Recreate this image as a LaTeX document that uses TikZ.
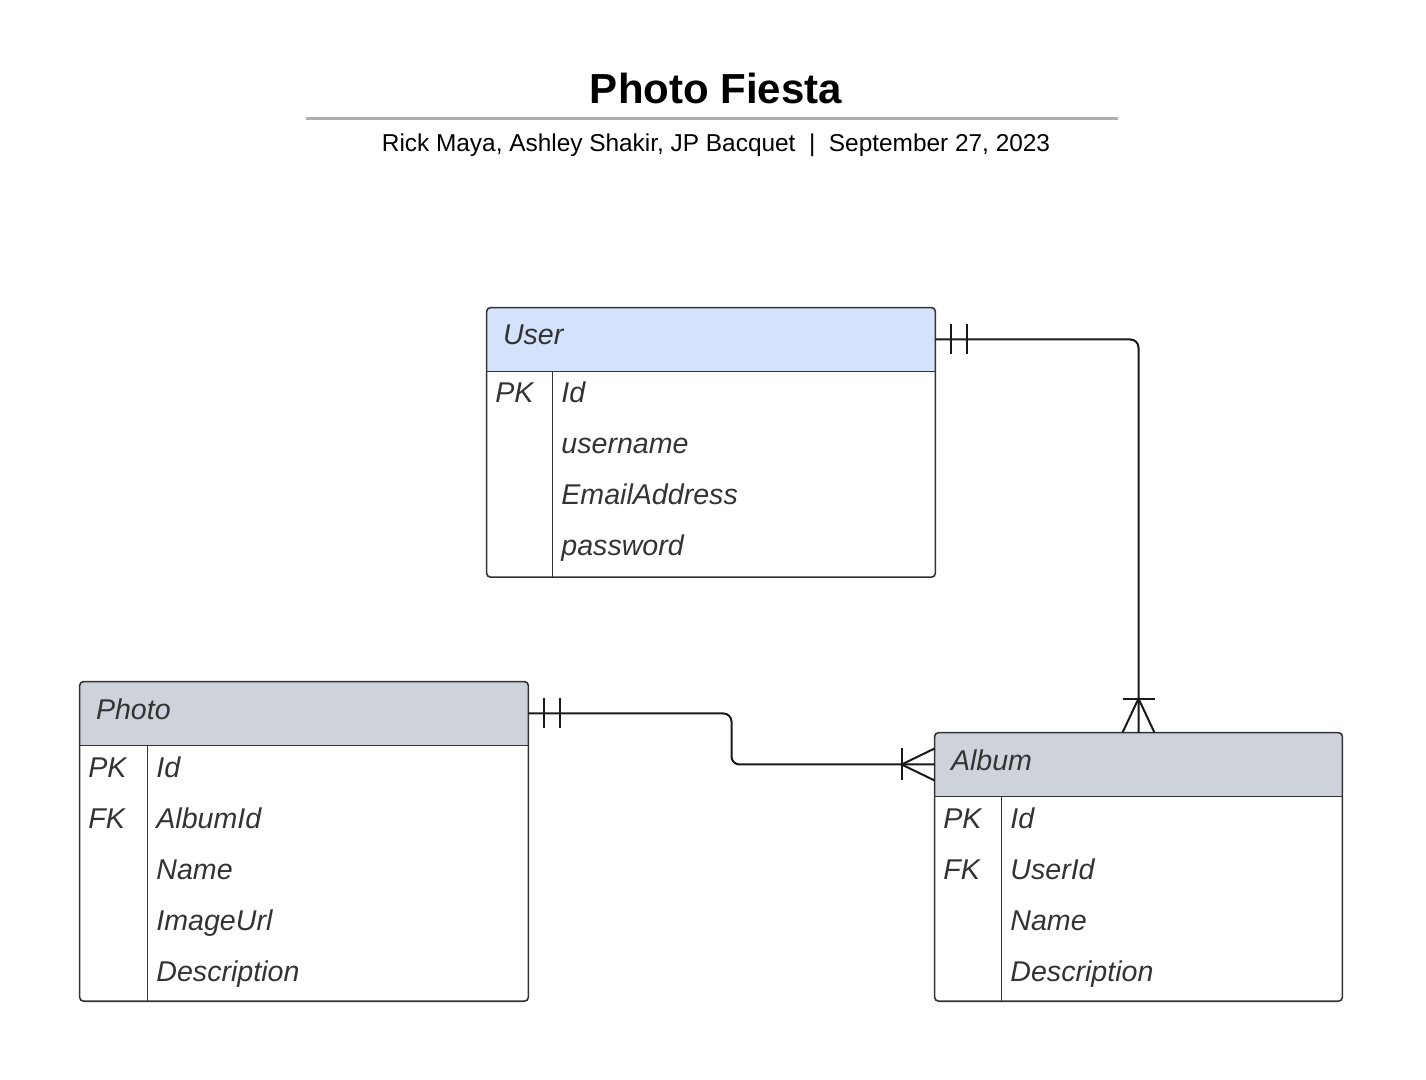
\documentclass[tikz,border=0pt]{standalone}
\usepackage{fontspec}
\setmainfont{Liberation Sans}
\usetikzlibrary{positioning, calc}
\pgfdeclarelayer{background}
\pgfsetlayers{background,main}

\definecolor{userblue}{HTML}{D4E3FB}
\definecolor{hdrgray}{HTML}{CED3DB}
\definecolor{linegray}{HTML}{333333}
\definecolor{rulegray}{HTML}{A9AFB8}
\definecolor{textgray}{HTML}{333333}

\tikzset{
  hdr/.style={inner xsep=8pt, inner ysep=0pt, minimum height=31.5pt, text height=10pt, text depth=4.5pt,
    align=left, text=textgray, font=\fontsize{14.3}{17}\selectfont\itshape},
  rows/.style={anchor=north, inner sep=0pt},
  field/.style={anchor=base west, inner sep=0pt, text=textgray, font=\fontsize{14.3}{17}\selectfont\itshape},
  frame/.style={draw=linegray, line width=0.8pt, rounded corners=2pt},
  divider/.style={draw=linegray, line width=0.8pt},
  rel/.style={draw=black!90, line width=1pt, rounded corners=4pt},
  relmark/.style={draw=black!90, line width=1pt}
}

\begin{document}
\begin{tikzpicture}[x=0.5pt, y=-0.5pt]
            \useasboundingbox (0,0) rectangle (1426,1080);

            % Title
            \node[anchor=base, font=\fontsize{21}{25}\selectfont\bfseries] (title) at (716,104) {Photo Fiesta};
            \draw[rulegray, line width=1.5pt] (306,119) -- (1118,119);
            \node[anchor=base, font=\fontsize{12.2}{14}\selectfont] (authors) at (716,152)
                {Rick Maya, Ashley Shakir, JP Bacquet\ \ |\ \ September 27, 2023};

            % User
            \node[hdr, text width=208pt] (user) at (711,339.5) {User};
            \node[rows, minimum width=224pt, minimum height=102.5pt] (user rows) at (user.south) {};
            \begin{pgfonlayer}{background}
                \begin{scope}
                    \clip[rounded corners=2pt] (user.north west) rectangle (user rows.south east);
                    \fill[userblue] (user.north west) rectangle (user.south east);
                \end{scope}
            \end{pgfonlayer}
            \draw[frame] (user.north west) rectangle (user rows.south east);
            \draw[divider] (user.south west) -- (user.south east);
            \draw[divider] ($(user.south west)+(66,0)$) -- ($(user rows.south west)+(66,0)$);
            \node[field] (user pk) at (495,403) {PK};
            \foreach \f [count=\i from 0] in {Id, username, EmailAddress, password}
                \node[field] (user f\i) at (561,403+51*\i) {\f};

            % Photo
            \node[hdr, text width=208pt] (photo) at (304,713.5) {Photo};
            \node[rows, minimum width=224pt, minimum height=127.5pt] (photo rows) at (photo.south) {};
            \begin{pgfonlayer}{background}
                \begin{scope}
                    \clip[rounded corners=2pt] (photo.north west) rectangle (photo rows.south east);
                    \fill[hdrgray] (photo.north west) rectangle (photo.south east);
                \end{scope}
            \end{pgfonlayer}
            \draw[frame] (photo.north west) rectangle (photo rows.south east);
            \draw[divider] (photo.south west) -- (photo.south east);
            \draw[divider] ($(photo.south west)+(68,0)$) -- ($(photo rows.south west)+(68,0)$);
            \node[field] (photo pk) at (88,777) {PK};
            \node[field] (photo fk) at (88,828) {FK};
            \foreach \f [count=\i from 0] in {Id, AlbumId, Name, ImageUrl, Description}
                \node[field] (photo f\i) at (156,777+51*\i) {\f};

            % Album
            \node[hdr, text width=187.5pt] (album) at (1138.5,764.5) {Album};
            \node[rows, minimum width=203.5pt, minimum height=102pt] (album rows) at (album.south) {};
            \begin{pgfonlayer}{background}
                \begin{scope}
                    \clip[rounded corners=2pt] (album.north west) rectangle (album rows.south east);
                    \fill[hdrgray] (album.north west) rectangle (album.south east);
                \end{scope}
            \end{pgfonlayer}
            \draw[frame] (album.north west) rectangle (album rows.south east);
            \draw[divider] (album.south west) -- (album.south east);
            \draw[divider] ($(album.south west)+(67,0)$) -- ($(album rows.south west)+(67,0)$);
            \node[field] (album pk) at (943,828) {PK};
            \node[field] (album fk) at (943,879) {FK};
            \foreach \f [count=\i from 0] in {Id, UserId, Name, Description}
                \node[field] (album f\i) at (1010,828+51*\i) {\f};

            % User -- Album: one and only one to one or many
            \draw[rel] (user.east) -| (album.north);
            \draw[relmark] ($(user.east)+(16,-15)$) -- ++(0,30);
            \draw[relmark] ($(user.east)+(32,-15)$) -- ++(0,30);
            \draw[relmark] ($(album.north)+(-16,-34)$) -- ++(32,0);
            \draw[relmark] ($(album.north)+(-16,0)$) -- ($(album.north)+(0,-34)$) -- ($(album.north)+(16,0)$);

            % Photo -- Album
            \draw[rel] (photo.east) -| ($(photo.east)!0.5!(album.west)$) |- (album.west);
            \draw[relmark] ($(photo.east)+(16,-15)$) -- ++(0,30);
            \draw[relmark] ($(photo.east)+(32,-15)$) -- ++(0,30);
            \draw[relmark] ($(album.west)+(-33,-16)$) -- ++(0,32);
            \draw[relmark] ($(album.west)+(0,-16)$) -- ($(album.west)+(-33,0)$) -- ($(album.west)+(0,16)$);
        \end{tikzpicture}
\end{document}
